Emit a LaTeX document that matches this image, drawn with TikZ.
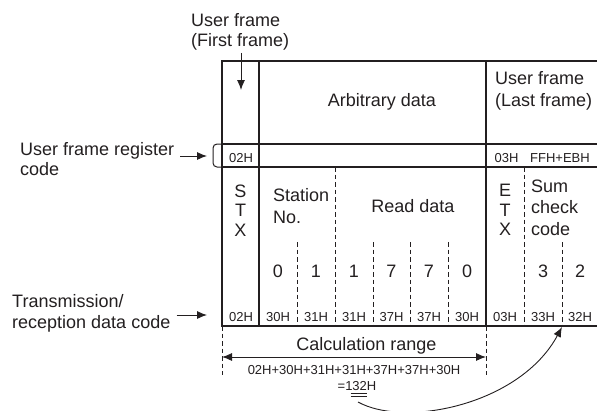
\documentclass[tikz,border=0pt]{standalone}
\usepackage{fontspec}
\setmainfont{Liberation Sans}
\usetikzlibrary{arrows.meta}
\definecolor{inkgray}{RGB}{35,31,32}

\tikzset{
  bigtxt/.style={font=\fontsize{18}{21.5}\selectfont, inner sep=0pt, text=inkgray},
  smalltxt/.style={font=\fontsize{13}{15}\selectfont, inner sep=0pt, text=inkgray},
  stacktxt/.style={font=\fontsize{18}{19.3}\selectfont, inner sep=0pt, text=inkgray, align=center},
  frameline/.style={draw=inkgray, line width=1.3pt},
  sepline/.style={draw=inkgray, line width=0.9pt, dash pattern=on 4.5pt off 3pt},
  pointer/.style={draw=inkgray, line width=0.9pt, ->}
}

\begin{document}
\begin{tikzpicture}[x=1pt, y=-1pt, >={Latex[length=10pt,width=8pt]}]
    \useasboundingbox (0,0) rectangle (597,410);

    % table
    \draw[frameline] (597,61) -- (222,61) -- (222,326) -- (597,326);
    \draw[frameline] (222,144) -- (597,144) (222,167) -- (597,167);
    \draw[frameline] (259,61) -- (259,326) (486,61) -- (486,326);
    \draw[sepline] (335,167) -- (335,326) (524,167) -- (524,326);
    \foreach \x in {297,373,410,448,562}
      \draw[sepline] (\x,242) -- (\x,326);
    \draw[draw=inkgray, line width=1pt, rounded corners=4pt] (222,144) -- (213,144) -- (213,167) -- (222,167);

    % upper part (multi-line labels sit on their last line)
    \node[bigtxt, anchor=base west, align=left, font=\fontsize{18}{20}\selectfont] (firstlbl) at (191,46) {User frame\\(First frame)};
    \coordinate (firsttip) at (241,90);
    \draw[pointer, shorten <=3pt] (firstlbl.south -| firsttip) -- (firsttip);
    \node[bigtxt, anchor=base] (arb) at (382,106) {Arbitrary data};
    \node[bigtxt, anchor=base west, align=left] (lastlbl) at (495,106) {User frame\\(Last frame)};

    % register code row
    \node[bigtxt, anchor=base west, align=left, font=\fontsize{18}{20}\selectfont] (reglbl) at (20,175) {User frame register\\code};
    \coordinate (regtip) at (207,156);
    \draw[pointer, shorten <=6pt] (reglbl.east |- regtip) -- (regtip);
    \node[smalltxt, anchor=base] (stxcode) at (241,162) {02H};
    \node[smalltxt, anchor=base] (etxcode) at (506.5,162) {03H};
    \node[smalltxt, anchor=base] (sumcode) at (560,162) {FFH+EBH};

    % field names
    \node[stacktxt, anchor=base] (stx) at (240.5,236) {S\\T\\X};
    \node[bigtxt, anchor=base west, align=left] (station) at (273,223.3) {Station\\No.};
    \node[bigtxt, anchor=base] (readdata) at (413,212) {Read data};
    \node[stacktxt, anchor=base] (etx) at (505,235.5) {E\\T\\X};
    \node[bigtxt, anchor=base west, align=left] (sumchk) at (531,235) {Sum\\check\\code};

    % characters and their codes
    \foreach \x/\t [count=\i] in {278/0,316/1,354/1,391.5/7,429/7,467/0,543/3,580/2}
      \node[bigtxt, anchor=base] (dig\i) at (\x,277.3) {\t};
    \foreach \x/\t [count=\i] in {241/02H,278/30H,316/31H,354/31H,391.5/37H,429/37H,467/30H,505/03H,543/33H,580/32H}
      \node[smalltxt, anchor=base] (hex\i) at (\x,321.7) {\t};
    \node[bigtxt, anchor=base west, align=left] (txlbl) at (12,328.5) {Transmission/\\reception data code};
    \coordinate (txtip) at (207,315);
    \draw[pointer, shorten <=6pt] (txlbl.east |- txtip) -- (txtip);

    % calculation range
    \draw[sepline] (222,326) -- (222,375) (486,326) -- (486,375);
    \coordinate (rangeleft) at (222,357);
    \coordinate (rangeright) at (486,357);
    \draw[pointer, <->] (rangeleft) -- (rangeright);
    \node[bigtxt, anchor=base] (calc) at (366.5,350.7) {Calculation range};
    \node[smalltxt, anchor=base] (sumexpr) at (354,374) {02H+30H+31H+31H+37H+37H+30H};
    \node[smalltxt, anchor=base] (sumres) at (357,390) {=132H};
    \draw[draw=inkgray, line width=1.1pt] (350.5,393.5) -- (366.5,393.5) (350.5,396.8) -- (366.5,396.8);
    \coordinate (curvestart) at (358,402);
    \coordinate (checkend) at (562,327);
    \draw[pointer] (curvestart) .. controls (405,428) and (520,405) .. (checkend);
  \end{tikzpicture}
\end{document}
